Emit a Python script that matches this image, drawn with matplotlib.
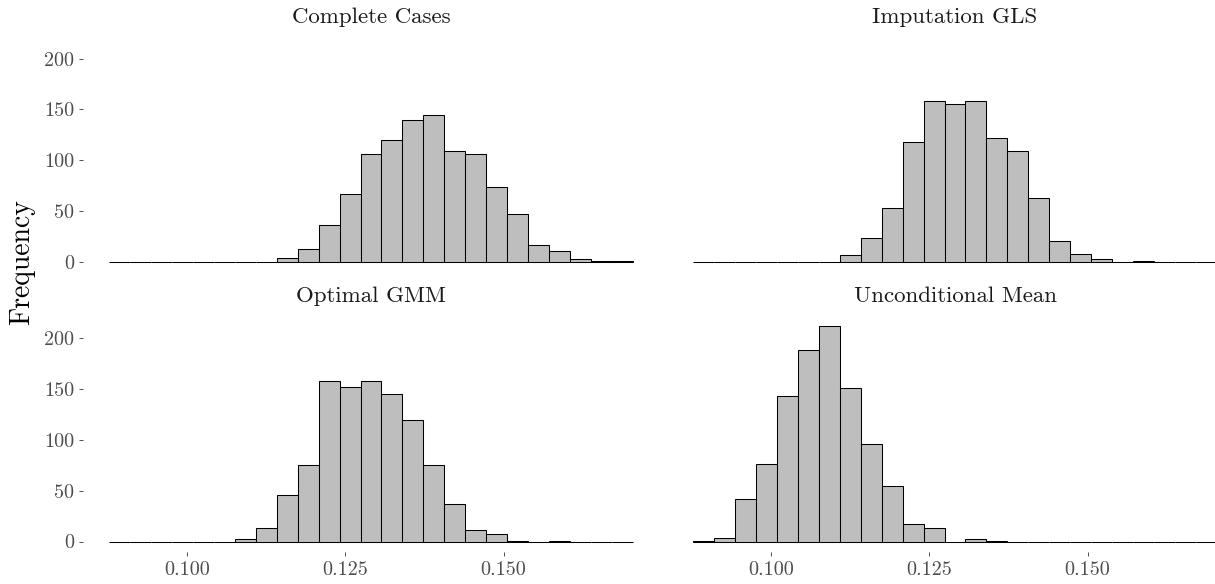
import numpy as np
import matplotlib
matplotlib.use("Agg")
import matplotlib.pyplot as plt

plt.rcParams["font.family"] = "serif"
plt.rcParams["font.serif"] = ["cmr10", "DejaVu Serif"]
plt.rcParams["axes.unicode_minus"] = False
plt.rcParams["axes.formatter.use_mathtext"] = True

# shared histogram bins (25 bins across all panels)
bin_start = 0.0877
bin_width = 0.00331
n_bins = 25

panel_titles = ["Complete Cases", "Imputation GLS", "Optimal GMM", "Unconditional Mean"]

complete_cases = [0, 0, 0, 0, 0, 0, 0, 0,
                  4, 13, 36, 67, 106, 120, 140, 145, 109, 106, 74, 47, 17, 11, 3, 1, 1]
imputation_gls = [0, 0, 0, 0, 0, 0, 0,
                  7, 24, 53, 118, 158, 155, 158, 122, 109, 63, 21, 8, 3, 0, 1,
                  0, 0, 0]
optimal_gmm = [0, 0, 0, 0, 0, 0,
               2, 13, 46, 75, 158, 152, 158, 145, 119, 75, 37, 11, 7, 1, 0, 1,
               0, 0, 0]
unconditional_mean = [1, 3, 42, 76, 143, 188, 212, 151, 96, 55, 17, 13, 0, 2, 1,
                      0, 0, 0, 0, 0, 0, 0, 0, 0, 0]

x_ticks = [0.100, 0.125, 0.150]
x_tick_labels = ["0.100", "0.125", "0.150"]
y_ticks = [0, 50, 100, 150, 200]
y_tick_labels = ["0", "50", "100", "150", "200"]

panel_counts = [complete_cases, imputation_gls, optimal_gmm, unconditional_mean]

edges = bin_start + bin_width * np.arange(n_bins + 1)
x_span = edges[-1] - edges[0]
xlim = (edges[0] - 0.05 * x_span, edges[-1] + 0.05 * x_span)
y_max = max(max(c) for c in panel_counts)
ylim = (-0.05 * y_max, 1.05 * y_max)

W, H = 1215, 584
fig = plt.figure(figsize=(W / 100, H / 100), dpi=100)

# panel boxes in pixels: left, top, width, height
pw, ph = 576.4, 237.2
boxes = [(82.8, 35.6), (666.8, 35.6), (82.8, 315.1), (666.8, 315.1)]

tick_col = "#333333"
label_col = "#4D4D4D"

for i, (title, counts) in enumerate(zip(panel_titles, panel_counts)):
    left, top = boxes[i]
    ax = fig.add_axes([left / W, 1 - (top + ph) / H, pw / W, ph / H])
    ax.bar(edges[:-1], counts, width=bin_width, align="edge",
           color="#BEBEBE", edgecolor="black", linewidth=0.75)
    ax.set_xlim(*xlim)
    ax.set_ylim(*ylim)
    for s in ax.spines.values():
        s.set_visible(False)
    ax.set_xticks(x_ticks)
    ax.set_yticks(y_ticks)
    ax.tick_params(axis="both", colors=tick_col, labelcolor=label_col,
                   length=3, width=0.6, labelsize=14.5, pad=3)
    if i < 2:
        ax.tick_params(axis="x", bottom=False, labelbottom=False)
    else:
        ax.set_xticklabels(x_tick_labels)
    if i % 2 == 1:
        ax.tick_params(axis="y", left=False, labelleft=False)
    else:
        ax.set_yticklabels(y_tick_labels)
    ax.text(0.5, 1.078, title, transform=ax.transAxes, ha="center",
            va="center", fontsize=16.5, color="#1A1A1A")

fig.text(22 / W, 1 - 262 / H, "Frequency", rotation=90, ha="center",
         va="center", fontsize=20, color="black")

fig.savefig("out.png", dpi=100, facecolor="white")
